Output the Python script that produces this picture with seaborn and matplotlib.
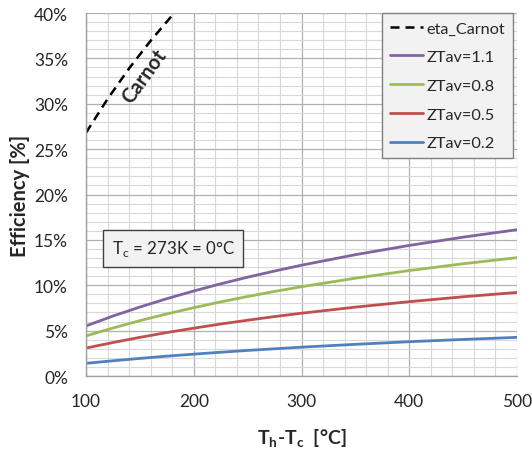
import matplotlib
matplotlib.use("Agg")
import matplotlib.pyplot as plt
import seaborn as sns
import pandas as pd
from matplotlib.ticker import MultipleLocator, FuncFormatter

# ---- data ----
dT = [100, 125, 150, 175, 200, 225, 250, 275, 300, 350, 400, 450, 500]
zt11 = [0.0552, 0.0661, 0.0760, 0.0852, 0.0937, 0.1016, 0.1089, 0.1157, 0.1221, 0.1337, 0.1439, 0.1530, 0.1612]
zt08 = [0.0442, 0.0529, 0.0610, 0.0684, 0.0753, 0.0817, 0.0876, 0.0932, 0.0984, 0.1078, 0.1162, 0.1237, 0.1304]
zt05 = [0.0308, 0.0369, 0.0426, 0.0479, 0.0527, 0.0573, 0.0615, 0.0655, 0.0692, 0.0759, 0.0819, 0.0873, 0.0921]
zt02 = [0.0140, 0.0168, 0.0194, 0.0219, 0.0241, 0.0262, 0.0282, 0.0300, 0.0318, 0.0349, 0.0378, 0.0403, 0.0426]
carnot_dT = [100, 120, 140, 160, 180, 190]
carnot_eta = [0.2681, 0.3053, 0.3390, 0.3695, 0.3974, 0.4104]
series_names = ["ZTav=1.1", "ZTav=0.8", "ZTav=0.5", "ZTav=0.2"]
series_vals = [zt11, zt08, zt05, zt02]
colors = ["#8064A2", "#9BBB59", "#C0504D", "#4F81BD"]

rows = []
for name, vals in zip(series_names, series_vals):
    for x, y in zip(dT, vals):
        rows.append({"dT": x, "eta": y, "series": name})
df = pd.DataFrame(rows)
df_c = pd.DataFrame({"dT": carnot_dT, "eta": carnot_eta})

sns.set_style("white")
plt.rcParams["font.family"] = ["Lato", "DejaVu Sans"]

fig = plt.figure(figsize=(5.32, 4.52), dpi=100)
ax = fig.add_axes([0.1617, 0.1659, 0.8101, 0.8031])

sns.lineplot(data=df_c, x="dT", y="eta", color="black", lw=1.8,
             linestyle=(0, (3.6, 2.4)), ax=ax, label="eta_Carnot")
sns.lineplot(data=df, x="dT", y="eta", hue="series", hue_order=series_names,
             palette=colors, lw=2, ax=ax)

ax.set_xlim(100, 500)
ax.set_ylim(0, 0.40)
ax.xaxis.set_major_locator(MultipleLocator(100))
ax.xaxis.set_minor_locator(MultipleLocator(20))
ax.yaxis.set_major_locator(MultipleLocator(0.05))
ax.yaxis.set_minor_locator(MultipleLocator(0.01))
ax.yaxis.set_major_formatter(FuncFormatter(lambda v, p: f"{v*100:.0f}%"))
ax.grid(which="major", color="#b0b0b0", lw=0.9)
ax.grid(which="minor", color="#d9d9d9", lw=0.8)
ax.set_axisbelow(True)
for s in ["top", "right"]:
    ax.spines[s].set_visible(False)
for s in ["left", "bottom"]:
    ax.spines[s].set_color("#a0a0a0")
    ax.spines[s].set_linewidth(1)
ax.tick_params(axis="both", which="major", direction="out", length=5,
               color="#a0a0a0", labelsize=12.5)
ax.tick_params(axis="x", which="major", pad=7)
ax.tick_params(axis="y", which="major", pad=8)
ax.tick_params(axis="both", which="minor", length=0)

ax.set_xlabel("T$_\\mathregular{h}$-T$_\\mathregular{c}$  [°C]", fontsize=14,
              fontweight="bold", labelpad=13)
ax.set_ylabel("Efficiency [%]", fontsize=14.5, fontweight="bold", labelpad=3)

ax.text(154, 0.331, "Carnot", rotation=54, fontsize=14.5, fontweight="bold",
        ha="center", va="center")
ax.text(181, 0.141, "T$_\\mathregular{c}$ = 273K = 0°C", fontsize=12.2,
        ha="center", va="center",
        bbox=dict(boxstyle="square,pad=0.5", fc="#f2f2f2", ec="#404040", lw=1))

leg = ax.legend(loc="upper right", bbox_to_anchor=(0.9907, 1.0), borderaxespad=0,
                fontsize=11.7, frameon=True, fancybox=False, handlelength=2.0,
                labelspacing=0.88, borderpad=0.5, handletextpad=0.2)
leg.get_frame().set_facecolor("#f2f2f2")
leg.get_frame().set_edgecolor("#808080")
leg.get_frame().set_alpha(1)

fig.savefig("out.png", dpi=100)
